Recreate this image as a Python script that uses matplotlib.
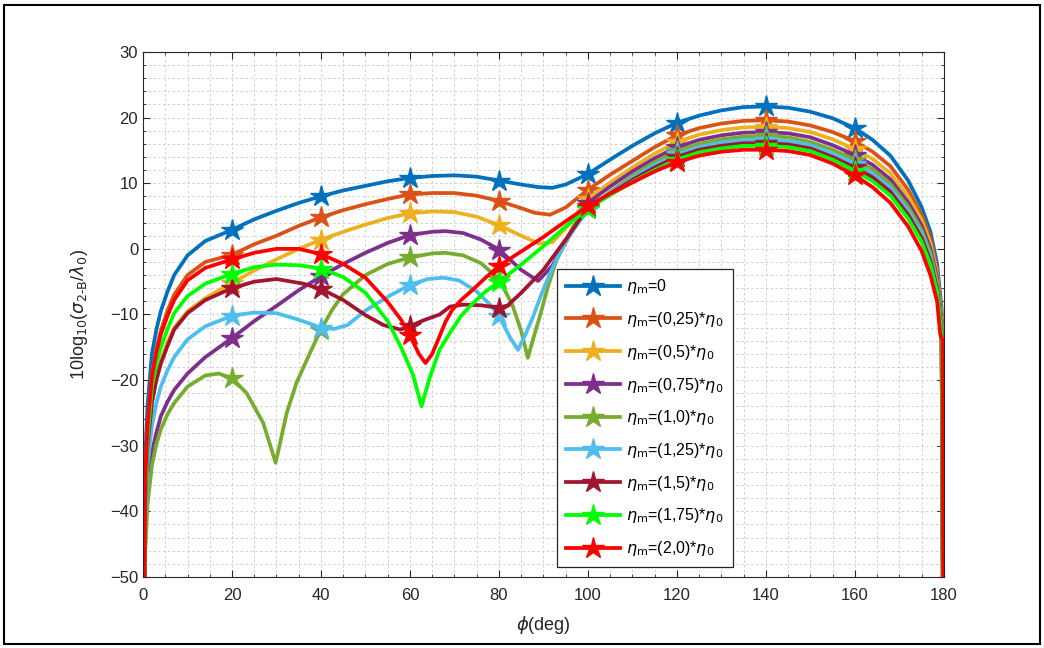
import numpy as np
import matplotlib
matplotlib.use("Agg")
import matplotlib.pyplot as plt
from matplotlib.patches import Rectangle
from matplotlib.ticker import MultipleLocator

plt.rcParams['font.family'] = ['Liberation Sans', 'DejaVu Sans']

# scattering angle (deg) and 10log10(sigma/lambda0) per eta_m case
phi_0 = [0, 0.5, 1, 2, 3, 4, 5.5, 7, 10, 14, 20, 25, 30, 35, 40, 45, 50, 55, 60, 65, 70, 75, 80,
         85, 89, 92, 95, 100, 105, 110, 115, 120, 125, 130, 135, 140, 145, 150, 155, 160,
         164, 168, 172, 175, 177, 178.5, 179.5, 180]
val_0 = [-80, -32, -24, -16, -12.3, -9.5, -6.5, -4.0, -1.0, 1.2, 2.9, 4.5, 5.8, 7.0, 8.0, 8.9, 9.6, 10.3,
         10.8, 11.1, 11.2, 11.0, 10.4, 9.8, 9.4, 9.3, 9.8, 11.4, 13.6, 15.7, 17.6, 19.2, 20.3, 21.1,
         21.6, 21.7, 21.5, 20.9, 19.9, 18.4, 16.6, 14.2, 10.4, 6.4, 2.6, -2.3, -9.0, -80]

phi_025 = [0, 0.5, 1, 2, 3, 4, 5.5, 7, 10, 14, 20, 25, 30, 35, 40, 45, 50, 55, 60, 65, 70, 75, 80,
           85, 88, 91.5, 95, 100, 105, 110, 115, 120, 125, 130, 135, 140, 145, 150, 155, 160,
           164, 168, 172, 175, 177, 178.5, 179.5, 180]
val_025 = [-80, -35, -27, -19, -15.3, -12.5, -9.4, -7.0, -4.0, -2.0, -0.9, 0.7, 2.0, 3.5, 4.8, 5.9, 6.8,
           7.6, 8.3, 8.5, 8.5, 8.1, 7.3, 6.2, 5.5, 5.2, 6.3, 9.0, 11.3, 13.4, 15.5, 17.3, 18.4, 19.1,
           19.5, 19.6, 19.4, 18.8, 17.8, 16.4, 14.8, 12.6, 9.0, 5.2, 1.6, -3.2, -10.0, -80]

phi_05 = [0, 0.5, 1, 2, 3, 4, 5.5, 7, 10, 14, 20, 25, 30, 35, 40, 45, 50, 55, 60, 65, 70, 75, 80,
          85, 89, 92, 96, 100, 105, 110, 115, 120, 125, 130, 135, 140, 145, 150, 155, 160,
          164, 168, 172, 175, 177, 178.5, 179.5, 180]
val_05 = [-80, -38, -30, -23, -19.5, -17.0, -14.2, -12.0, -9.5, -7.5, -5.2, -3.3, -1.6, 0.0, 1.4, 2.6,
          3.7, 4.7, 5.4, 5.7, 5.6, 4.9, 3.6, 2.0, 0.8, 1.0, 3.9, 7.6, 10.1, 12.4, 14.5, 16.3, 17.4,
          18.1, 18.5, 18.6, 18.4, 17.8, 16.7, 15.2, 13.7, 11.5, 8.0, 4.4, 0.8, -3.8, -10.5, -80]

phi_075 = [0, 0.5, 1, 2, 3, 4, 5.5, 7, 10, 14, 20, 25, 30, 35, 40, 45, 50, 55, 60, 65, 68, 72, 76,
           80, 85, 88.8, 92, 96, 100, 105, 110, 115, 120, 125, 130, 135, 140, 145, 150, 155, 160,
           164, 168, 172, 175, 177, 178.5, 179.5, 180]
val_075 = [-80, -44, -36, -31, -28, -25.5, -23.3, -21.5, -19.0, -16.5, -13.6, -11.0, -8.7, -6.3, -4.2,
           -2.3, -0.6, 0.9, 2.1, 2.6, 2.7, 2.4, 1.4, -0.1, -3.2, -4.9, -2.6, 2.2, 7.0, 9.5, 11.8,
           13.8, 15.5, 16.6, 17.3, 17.7, 17.8, 17.6, 17.0, 15.8, 14.3, 12.8, 10.6, 7.1, 3.6, 0.0,
           -4.4, -11.0, -80]

phi_10 = [0, 0.5, 1, 2, 3, 4, 5.5, 7, 10, 14, 17, 20, 23.3, 27, 28.9, 29.8, 30.8, 32.3, 34.5, 37.5,
          40, 42.5, 45, 50, 55, 60, 65, 68, 72, 76, 80, 83, 85, 86.5, 88, 89.2, 91, 93, 96.7, 100, 105,
          110, 115, 120, 125, 130, 135, 140, 145, 150, 155, 160, 164, 168, 172, 175, 177, 178.5,
          179.5, 180]
val_10 = [-80, -46, -39, -33, -29.8, -27.5, -25.2, -23.5, -21.0, -19.3, -19.0, -19.7, -22.0, -26.5,
          -30.6, -32.6, -29.6, -25.0, -20.4, -15.9, -12.3, -9.3, -6.9, -4.0, -2.3, -1.3, -0.7, -0.6, -1.0,
          -2.2, -4.6, -8.5, -12.5, -16.6, -13.0, -10.3, -5.8, -1.6, 3.4, 6.0, 8.7, 11.1, 13.2, 14.9,
          16.0, 16.7, 17.1, 17.2, 17.0, 16.3, 15.1, 13.6, 12.1, 9.9, 6.4, 2.9, -0.6, -5.0, -11.5, -80]

phi_125 = [0, 0.5, 1, 2, 3, 4, 5.5, 7, 10, 14, 20, 25, 30, 35, 40, 43, 46, 50, 55, 60, 64, 67.5, 71,
           75, 78, 80, 82.5, 84.3, 86, 87.7, 89.5, 91.5, 95.2, 100, 105, 110, 115, 120, 125, 130,
           135, 140, 145, 150, 155, 160, 164, 168, 172, 175, 177, 178.5, 179.5, 180]
val_125 = [-80, -41, -33, -27, -23.5, -21.0, -18.5, -16.5, -13.8, -11.8, -10.2, -9.7, -9.8, -10.8,
           -12.0, -12.2, -11.6, -9.4, -7.3, -5.5, -4.6, -4.4, -4.8, -6.5, -8.5, -10.2, -13.5, -15.4,
           -13.0, -10.3, -7.0, -3.7, 1.4, 6.0, 8.5, 10.8, 12.8, 14.4, 15.5, 16.2, 16.6, 16.6, 16.4,
           15.8, 14.5, 13.0, 11.5, 9.3, 5.8, 2.3, -1.2, -5.5, -12.0, -80]

phi_15 = [0, 0.5, 1, 2, 3, 4, 5.5, 7, 10, 14, 20, 25, 30, 36, 40, 45, 50, 54, 57.8, 60, 63, 66.7, 69,
          72, 76, 80, 82, 85, 90, 95, 100, 105, 110, 115, 120, 125, 130, 135, 140, 145, 150, 155,
          160, 164, 168, 172, 175, 177, 178.5, 179.5, 180]
val_15 = [-80, -38, -30, -23.5, -20.0, -17.5, -14.8, -12.3, -9.8, -7.8, -6.0, -5.0, -4.6, -5.3, -6.1,
          -7.8, -10.1, -11.6, -12.3, -11.8, -10.9, -10.0, -8.8, -8.5, -8.6, -9.0, -8.6, -6.7, -3.2,
          1.4, 6.3, 8.4, 10.5, 12.4, 14.0, 15.1, 15.7, 16.1, 16.1, 15.9, 15.3, 14.0, 12.4, 10.9,
          8.7, 5.2, 1.7, -1.8, -6.0, -12.5, -80]

phi_175 = [0, 0.5, 1, 2, 3, 4, 5.5, 7, 10, 14, 20, 25, 30, 35, 40, 45, 50, 55, 58, 60.7, 62.6, 64.5,
           66.7, 69, 71.5, 74, 77, 80, 85, 90, 95, 100, 105, 110, 115, 120, 125, 130, 135, 140, 145, 150,
           155, 160, 164, 168, 172, 175, 177, 178.5, 179.5, 180]
val_175 = [-80, -37, -29, -21, -17.5, -15.0, -12.2, -9.8, -7.2, -5.3, -3.8, -2.8, -2.4, -2.5, -3.0,
           -4.3, -6.7, -11.0, -15.0, -19.2, -24.0, -19.5, -15.3, -12.8, -10.2, -8.4, -6.5, -5.0, -2.4, 0.4,
           3.4, 6.1, 8.2, 10.2, 12.0, 13.6, 14.7, 15.3, 15.7, 15.7, 15.5, 14.9, 13.6, 11.9, 10.3,
           8.1, 4.6, 1.1, -2.4, -6.5, -13.0, -80]

phi_20 = [0, 0.5, 1, 2, 3, 4, 5.5, 7, 10, 14, 20, 25, 30, 35, 40, 45, 50, 55, 58, 60, 62, 63.5, 65,
          66.5, 68, 69.5, 71.5, 74, 77, 80, 85, 90, 95, 100, 105, 110, 115, 120, 125, 130, 135, 140,
          145, 150, 155, 160, 164, 168, 172, 175, 177, 178.5, 179.2, 179.7, 180]
val_20 = [-80, -35, -27, -19.5, -15.8, -13.0, -10.2, -7.8, -4.8, -2.9, -1.6, -0.6, 0.0, 0.0, -0.8,
          -2.3, -4.4, -8.1, -10.8, -13.2, -16.0, -17.4, -16.0, -13.6, -11.1, -9.3, -7.8, -6.3, -4.4,
          -2.6, -0.4, 1.8, 4.2, 6.5, 8.4, 10.1, 11.8, 13.2, 14.2, 14.8, 15.1, 15.1, 14.9, 14.3, 13.0,
          11.2, 9.4, 7.0, 3.4, -0.3, -4.0, -8.0, -13.0, -14.0, -80]

labels = [r'$\eta_\mathrm{m}$=0',
          r'$\eta_\mathrm{m}$=(0,25)*$\eta_0$',
          r'$\eta_\mathrm{m}$=(0,5)*$\eta_0$',
          r'$\eta_\mathrm{m}$=(0,75)*$\eta_0$',
          r'$\eta_\mathrm{m}$=(1,0)*$\eta_0$',
          r'$\eta_\mathrm{m}$=(1,25)*$\eta_0$',
          r'$\eta_\mathrm{m}$=(1,5)*$\eta_0$',
          r'$\eta_\mathrm{m}$=(1,75)*$\eta_0$',
          r'$\eta_\mathrm{m}$=(2,0)*$\eta_0$']
colors = ['#0072BD', '#D95319', '#EDB120', '#7E2F8E', '#77AC30',
          '#4DBEEE', '#A2142F', '#00FF00', '#FF0000']
series = [(phi_0, val_0), (phi_025, val_025), (phi_05, val_05), (phi_075, val_075),
          (phi_10, val_10), (phi_125, val_125), (phi_15, val_15), (phi_175, val_175),
          (phi_20, val_20)]
marker_phi = [20, 40, 60, 80, 100, 120, 140, 160]

fig = plt.figure(figsize=(10.44, 6.48), dpi=100)
ax = fig.add_axes([0.137, 0.1096, 0.767, 0.8102])

for (ph, v), c, lab in zip(series, colors, labels):
    ph = np.array(ph)
    idx = list(np.where(np.isin(ph, marker_phi))[0])
    ax.plot(ph, v, color=c, lw=2.7, marker='*', markersize=16,
            markevery=idx, label=lab, solid_joinstyle='round')

ax.set_xlim(0, 180)
ax.set_ylim(-50, 30)
ax.xaxis.set_major_locator(MultipleLocator(20))
ax.xaxis.set_minor_locator(MultipleLocator(5))
ax.yaxis.set_major_locator(MultipleLocator(10))
ax.yaxis.set_minor_locator(MultipleLocator(2))
ax.grid(True, which='both', color='#cfcfcf', linestyle=(0, (2.5, 2.5)), lw=0.7)
ax.set_axisbelow(True)

ax.tick_params(which='both', direction='in', top=True, right=True,
               colors='#262626', labelsize=12)
ax.tick_params(axis='x', pad=8)
ax.tick_params(which='major', length=5, width=0.8)
ax.tick_params(which='minor', length=2.5, width=0.6)
for s in ax.spines.values():
    s.set_color('#262626')
    s.set_linewidth(0.8)

ax.set_xlabel(r'$\phi$(deg)', fontsize=13, color='#262626', labelpad=8)
ax.set_ylabel(r'10log$_{10}$($\sigma_\mathrm{2\text{-}B}$/$\lambda_0$)', fontsize=13,
              color='#262626', labelpad=14)

leg = ax.legend(loc='lower left', bbox_to_anchor=(0.517, 0.019), fontsize=11.5,
                handlelength=3.4, handletextpad=0.4, labelspacing=0.86, borderpad=0.55,
                borderaxespad=0, fancybox=False, framealpha=1, edgecolor='#262626')
leg.get_frame().set_linewidth(0.9)

fig.add_artist(Rectangle((0.004, 0.006), 0.992, 0.986, transform=fig.transFigure,
                         fill=False, edgecolor='black', lw=1.5))

fig.savefig('out.png', dpi=100)
